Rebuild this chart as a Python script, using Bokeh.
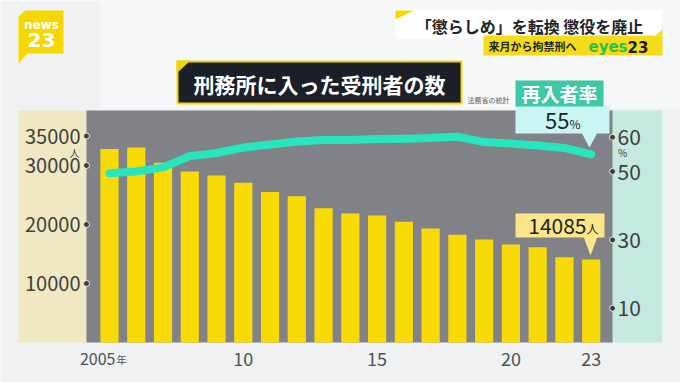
from bokeh.plotting import figure
from bokeh.models import Range1d
from bokeh.embed import file_html
from bokeh.resources import INLINE
from bokeh.core.properties import value

# ---------------- data ----------------
years = [2005, 2006, 2007, 2008, 2009, 2010, 2011, 2012, 2013, 2014,
         2015, 2016, 2017, 2018, 2019, 2020, 2021, 2022, 2023]
counts = [32789, 33032, 30450, 28963, 28293, 27079, 25499, 24780, 22755, 21866,
          21539, 20467, 19336, 18272, 17464, 16620, 16152, 14460, 14085]
rate = [49.5, 50.0, 51.2, 54.5, 55.4, 57.0, 57.9, 58.8, 59.2, 59.2,
        59.5, 59.6, 59.8, 60.2, 58.6, 58.2, 57.6, 56.9, 55.0]
left_ticks = [10000, 20000, 30000, 35000]
right_ticks = [10, 30, 50, 60]
x_tick_years = [2005, 2010, 2015, 2020, 2023]
x_tick_labels = ["2005", "10", "15", "20", "23"]

title = "刑務所に入った受刑者の数"
headline = "「懲らしめ」を転換 懲役を廃止"
subhead = "来月から拘禁刑へ"
source = "法務省の統計"
rate_name = "再入者率"

JP = "Noto Sans CJK JP"

# ---------------- layout (page pixels) ----------------
W, H = 680, 382
PL, PT = 0, 0
PR, PB = PL + W, PT + H
X0, DX = 109.0, 26.76           # page x of first bar centre, px per year
Y0 = 342.0                      # page y of zero
K_COUNT = 59.0 / 10000.0        # px per person
K_RATE = 3.42                   # px per percent

p = figure(width=W, height=H, output_backend="svg", toolbar_location=None,
           x_range=Range1d(years[0] - (X0 - PL) / DX, years[0] + (PR - X0) / DX),
           y_range=Range1d(-(PB - Y0) / K_COUNT, (Y0 - PT) / K_COUNT),
           x_axis_type=None, y_axis_type=None, min_border=0)
p.extra_x_ranges = {"px": Range1d(PL, PR)}
p.extra_y_ranges = {"rate": Range1d(-(PB - Y0) / K_RATE, (Y0 - PT) / K_RATE),
                    "px": Range1d(PB, PT)}
p.outline_line_color = None
p.background_fill_color = "#eff1f3"
p.border_fill_color = "#eff1f3"


def box(x0, y0, x1, y1, color, **kw):
    p.quad(left=[x0], right=[x1], top=[y0], bottom=[y1],
           x_range_name="px", y_range_name="px",
           fill_color=color, line_color=kw.pop("line_color", None), **kw)


def poly(xs, ys, color):
    p.patch(xs, ys, x_range_name="px", y_range_name="px",
            fill_color=color, line_color=None)


def txt(x, y, s, size, color, align="left", style="normal", font=JP,
        baseline="middle", xr="px", yr="px", **kw):
    p.text(x=x if isinstance(x, list) else [x],
           y=y if isinstance(y, list) else [y],
           text=s if isinstance(s, list) else [s],
           text_font=value(font), text_font_size=f"{size}px",
           text_color=color, text_align=align, text_baseline=baseline,
           text_font_style=style, x_range_name=xr, y_range_name=yr, **kw)


# ---------------- backdrop ----------------
box(100, 0, 680, 108, "#f6f7f8")

# logo
poly([18, 25, 63, 63, 27, 18], [16, 10, 10, 53, 53, 63], "#f4d800")
txt(41, 24, "news", 12, "#ffffff", align="center", style="bold", font="DejaVu Sans")
txt(41, 39, "23", 20, "#ffffff", align="center", style="bold", font="DejaVu Sans")

# headline banner
box(395, 10, 661, 38, "#ffffff")
poly([395, 413, 395], [10, 10, 19], "#f4d800")
txt(529, 25, headline, 16, "#222428", align="center", style="bold")
box(483, 35, 662, 55, "#f4dc1a")
poly([655, 662, 662], [35, 29, 35], "#f4dc1a")
txt(488, 45.5, subhead, 11, "#222428", style="bold")
txt(588, 46, "eyes", 15, "#2fc04c", style="bold", font="DejaVu Sans")
txt(627, 46, "23", 15, "#1a1a1a", style="bold", font="DejaVu Sans")

# title box
box(177, 61, 461, 103, "#1b1f27", line_color="#f2d600", line_width=2)
poly([176, 190, 176], [60, 60, 73], "#f2d600")
txt(319, 83, title, 21, "#ffffff", align="center", style="bold")
txt(488, 99, source, 7, "#555a5e", align="center")

# panels
box(18, 110, 92, 342, "#efe8c2")
box(606, 110, 662, 342, "#c5e9df")
box(86, 110, 612, 342, "#818288")

# ---------------- data marks ----------------
p.vbar(x=years, top=counts, bottom=0, width=0.68, fill_color="#f7da06", line_color=None)
p.line(years, rate, y_range_name="rate", line_width=8, line_color="#27e6be",
       line_cap="round", line_join="round")

# ---------------- axes (as text) ----------------
p.scatter(x=[86] * len(left_ticks), y=left_ticks, x_range_name="px", size=6,
          fill_color="#3b3e40", line_color="#eeeeee", line_width=1)
txt([80] * len(left_ticks), left_ticks, [str(t) for t in left_ticks], 20, "#3d4242",
    align="right", xr="px", yr="default")
txt(74, 152, "人", 10, "#3d4242", align="center")

p.scatter(x=[612] * len(right_ticks), y=right_ticks, x_range_name="px", y_range_name="rate",
          size=6, fill_color="#3b3e40", line_color="#eeeeee", line_width=1)
txt([617] * len(right_ticks), right_ticks, [str(t) for t in right_ticks], 21, "#3d4242",
    xr="px", yr="rate")
txt(622, 152, "%", 10, "#3d4242", align="center")

txt(x_tick_years[0], 358, x_tick_labels[0], 16, "#4d5252",
    align="right", xr="default", yr="px", x_offset=6)
txt(x_tick_years[1:], [358] * (len(x_tick_years) - 1), x_tick_labels[1:], 18, "#4d5252",
    align="center", xr="default", yr="px")
txt(116, 359, "年", 10, "#4d5252")

# ---------------- callouts ----------------
# re-entry rate
box(515, 105, 609, 133, "#c9f6f2")
poly([581, 597, 589], [132, 132, 147], "#c9f6f2")
box(515, 80, 603, 106, "#3fc8a4")
txt(559, 93, rate_name, 19, "#ffffff", align="center", style="bold")
txt(569, 120, f"{rate[-1]:.0f}", 22, "#1d2626", align="right")
txt(569, 123, "%", 12, "#1d2626")

# prisoner count
box(515, 213, 604, 237, "#fbe68a")
poly([583, 597, 590], [236, 236, 255], "#fbe68a")
txt(586, 225, f"{counts[-1]}", 21, "#1d2222", align="right")
txt(586, 228, "人", 12, "#1d2222")

open("out.html", "w").write(file_html(p, INLINE))
